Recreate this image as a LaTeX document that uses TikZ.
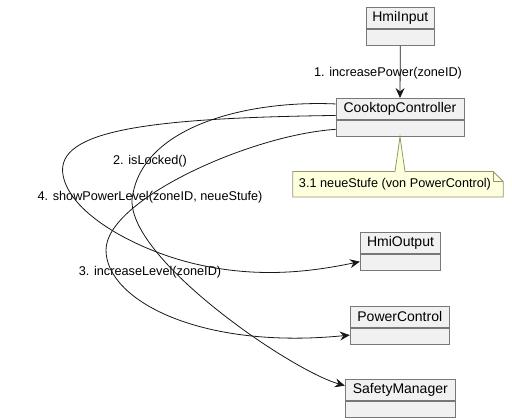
\documentclass[tikz,border=0pt]{standalone}
\usepackage{fontspec}
\setmainfont{Liberation Sans}
\usetikzlibrary{arrows.meta,positioning}
\definecolor{boxfill}{RGB}{241,241,241}
\definecolor{boxline}{RGB}{120,120,120}
\definecolor{notefill}{RGB}{254,255,221}
\definecolor{noteline}{RGB}{150,150,110}
\definecolor{lnk}{RGB}{24,24,24}
\begin{document}
\begin{tikzpicture}[x=1pt,y=-1pt,
  clshead/.style={draw=boxline,fill=boxfill,line width=0.9pt,minimum height=21pt,inner sep=0pt,font=\fontsize{14}{16}\selectfont,anchor=north},
  clsbody/.style={draw=boxline,fill=boxfill,line width=0.9pt,minimum height=16pt,inner sep=0pt,anchor=north},
  msg/.style={font=\fontsize{12.7}{15}\selectfont,inner sep=0pt},
  link/.style={draw=lnk,line width=0.8pt,-{Stealth[length=10pt,width=9pt,inset=3.5pt]}}]
\useasboundingbox (0,0) rectangle (512,420);
% classes
\node[clshead,minimum width=67.3pt] (hih) at (400.3,7) {HmiInput};
\node[clsbody,minimum width=67.3pt] (hib) at (hih.south) {};
\node[clshead,minimum width=128pt] (cch) at (400,98) {CooktopController};
\node[clsbody,minimum width=128pt] (ccb) at (cch.south) {};
\node[clshead,minimum width=80.4pt] (hoh) at (400.5,232.3) {HmiOutput};
\node[clsbody,minimum width=80.4pt] (hob) at (hoh.south) {};
\node[clshead,minimum width=99pt] (pch) at (399.8,305.7) {PowerControl};
\node[clsbody,minimum width=99pt] (pcb) at (pch.south) {};
\node[clshead,minimum width=110pt] (smh) at (400.3,378.7) {SafetyManager};
\node[clsbody,minimum width=110pt] (smb) at (smh.south) {};
% note
\node[minimum width=210pt,minimum height=25pt,inner sep=0pt] (note) at (398,184.2) {};
\draw[draw=noteline,fill=notefill,line width=0.8pt]
  (note.north west) -- ([xshift=-5pt]note.north -| ccb.south) -- (ccb.south)
  -- ([xshift=5pt]note.north -| ccb.south) -- ([xshift=-10pt]note.north east)
  -- ([yshift=-10pt]note.north east) -- (note.south east) -- (note.south west) -- cycle;
\draw[draw=noteline,line width=0.8pt] ([xshift=-10pt]note.north east) -- ([xshift=-10pt,yshift=-10pt]note.north east) -- ([yshift=-10pt]note.north east);
\node[msg] (notetext) at ([xshift=-3pt]note.center) {3.1 neueStufe (von PowerControl)};
% message labels
\node[msg] (l1) at (388,73) {1. increasePower(zoneID)};
\node[msg] (l2) at (150,161) {2. isLocked()};
\node[msg] (l4) at (150,197) {4. showPowerLevel(zoneID, neueStufe)};
\node[msg] (l3) at (150,272) {3. increaseLevel(zoneID)};
% connectors
\draw[link] (hib.south) -- (cch.north);
\coordinate (a1) at (132,200);
\draw[link] ([yshift=5pt]cch.west) .. controls (250,100) and (140,125) .. (a1)
  .. controls (130,260) and (290,370) .. ([yshift=4pt]smh.west);
\coordinate (b1) at (63,175);
\coordinate (b2) at (200,265);
\draw[link] ([yshift=-6.5pt]cch.west) .. controls (150,118) and (55,130) .. (b1)
  .. controls (70,215) and (140,252) .. (b2)
  .. controls (260,278) and (310,272) .. ([yshift=1pt]hob.west);
\coordinate (c1) at (106,250);
\draw[link] ([yshift=-1pt]ccb.west) .. controls (250,135) and (106,200) .. (c1)
  .. controls (106,300) and (200,350) .. ([yshift=1pt]pcb.west);
\end{tikzpicture}
\end{document}
